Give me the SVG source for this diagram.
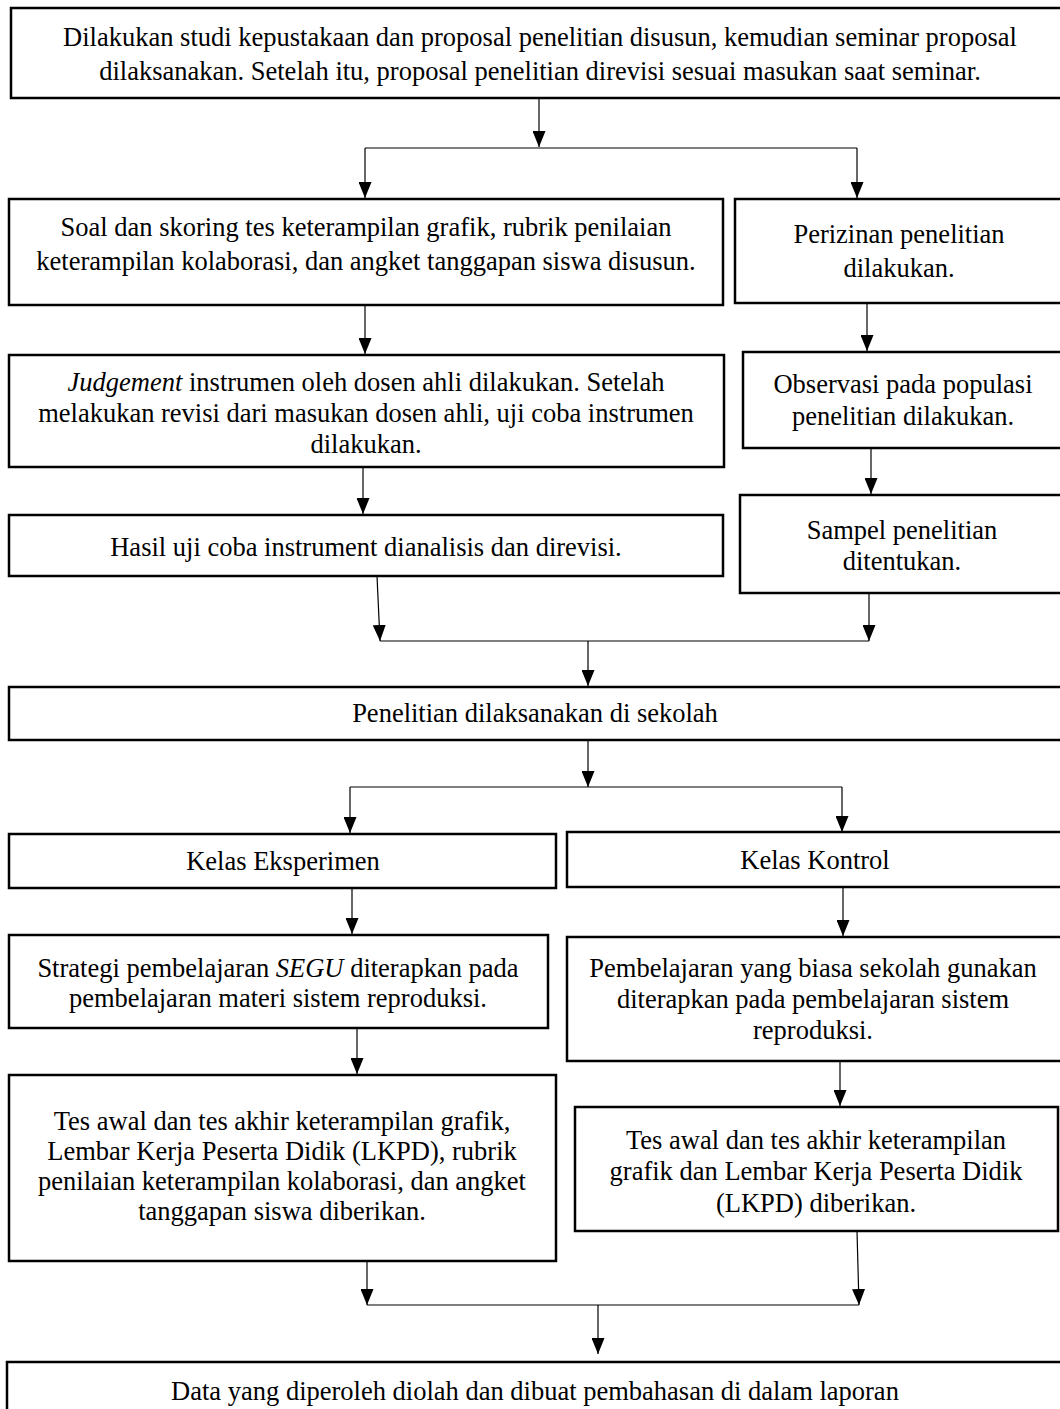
<svg xmlns="http://www.w3.org/2000/svg" width="1060" height="1409" viewBox="0 0 1060 1409">
<style>
.box{fill:#fff;stroke:#000;stroke-width:2.5}
.t{font-family:"Liberation Serif","Times New Roman",serif;font-size:26.5px;fill:#000;text-anchor:middle}
.c{fill:none;stroke:#000;stroke-width:1.2}
</style>
<defs>
<marker id="ah" viewBox="0 0 16 13" refX="16" refY="6.5" markerWidth="16" markerHeight="13" markerUnits="userSpaceOnUse" orient="auto">
<path d="M0,0 L16,6.5 L0,13 Z" fill="#000"/>
</marker>
</defs>
<rect width="1060" height="1409" fill="#fff"/>

<g id="connectors">
<line class="c" x1="539" y1="98" x2="539" y2="147" marker-end="url(#ah)"/>
<line class="c" x1="365" y1="148" x2="857" y2="148"/>
<line class="c" x1="365" y1="148" x2="365" y2="198" marker-end="url(#ah)"/>
<line class="c" x1="857" y1="148" x2="857" y2="198" marker-end="url(#ah)"/>
<line class="c" x1="365" y1="305" x2="365" y2="354" marker-end="url(#ah)"/>
<line class="c" x1="867" y1="303" x2="867" y2="351" marker-end="url(#ah)"/>
<line class="c" x1="363" y1="467" x2="363" y2="514" marker-end="url(#ah)"/>
<line class="c" x1="871" y1="448" x2="871" y2="494" marker-end="url(#ah)"/>
<line class="c" x1="377" y1="576" x2="380" y2="641" marker-end="url(#ah)"/>
<line class="c" x1="869" y1="593" x2="869" y2="641" marker-end="url(#ah)"/>
<line class="c" x1="380" y1="641" x2="869" y2="641"/>
<line class="c" x1="588" y1="641" x2="588" y2="686" marker-end="url(#ah)"/>
<line class="c" x1="588" y1="740" x2="588" y2="787" marker-end="url(#ah)"/>
<line class="c" x1="350" y1="787" x2="842" y2="787"/>
<line class="c" x1="350" y1="787" x2="350" y2="833" marker-end="url(#ah)"/>
<line class="c" x1="842" y1="787" x2="842" y2="832" marker-end="url(#ah)"/>
<line class="c" x1="352" y1="888" x2="352" y2="934" marker-end="url(#ah)"/>
<line class="c" x1="843" y1="887" x2="843" y2="936" marker-end="url(#ah)"/>
<line class="c" x1="357" y1="1028" x2="357" y2="1074" marker-end="url(#ah)"/>
<line class="c" x1="840" y1="1061" x2="840" y2="1106" marker-end="url(#ah)"/>
<line class="c" x1="367" y1="1261" x2="367" y2="1305" marker-end="url(#ah)"/>
<line class="c" x1="857" y1="1231" x2="859" y2="1305" marker-end="url(#ah)"/>
<line class="c" x1="367" y1="1305" x2="859" y2="1305"/>
<line class="c" x1="598" y1="1305" x2="598" y2="1354" marker-end="url(#ah)"/>
</g>

<g id="n1">
<rect class="box" x="11" y="8" width="1060" height="90"/>
<text class="t" x="540" y="46">Dilakukan studi kepustakaan dan proposal penelitian disusun, kemudian seminar proposal</text>
<text class="t" x="540" y="80">dilaksanakan. Setelah itu, proposal penelitian direvisi sesuai masukan saat seminar.</text>
</g>

<g id="n2">
<rect class="box" x="9" y="199" width="714" height="106"/>
<text class="t" x="366" y="236">Soal dan skoring tes keterampilan grafik, rubrik penilaian</text>
<text class="t" x="366" y="270">keterampilan kolaborasi, dan angket tanggapan siswa disusun.</text>
</g>

<g id="n3">
<rect class="box" x="735" y="199" width="330" height="104"/>
<text class="t" x="899" y="243">Perizinan penelitian</text>
<text class="t" x="899" y="277">dilakukan.</text>
</g>

<g id="n4">
<rect class="box" x="9" y="355" width="715" height="112"/>
<text class="t" x="366" y="391"><tspan font-style="italic">Judgement</tspan> instrumen oleh dosen ahli dilakukan. Setelah</text>
<text class="t" x="366" y="422">melakukan revisi dari masukan dosen ahli, uji coba instrumen</text>
<text class="t" x="366" y="453">dilakukan.</text>
</g>

<g id="n5">
<rect class="box" x="743" y="352" width="322" height="96"/>
<text class="t" x="903" y="393">Observasi pada populasi</text>
<text class="t" x="903" y="425">penelitian dilakukan.</text>
</g>

<g id="n6">
<rect class="box" x="9" y="515" width="714" height="61"/>
<text class="t" x="366" y="556">Hasil uji coba instrument dianalisis dan direvisi.</text>
</g>

<g id="n7">
<rect class="box" x="740" y="495" width="325" height="98"/>
<text class="t" x="902" y="539">Sampel penelitian</text>
<text class="t" x="902" y="570">ditentukan.</text>
</g>

<g id="n8">
<rect class="box" x="9" y="687" width="1056" height="53"/>
<text class="t" x="535" y="722">Penelitian dilaksanakan di sekolah</text>
</g>

<g id="n9">
<rect class="box" x="9" y="834" width="547" height="54"/>
<text class="t" x="283" y="870">Kelas Eksperimen</text>
</g>

<g id="n10">
<rect class="box" x="567" y="832" width="498" height="55"/>
<text class="t" x="815" y="869">Kelas Kontrol</text>
</g>

<g id="n11">
<rect class="box" x="9" y="935" width="539" height="93"/>
<text class="t" x="278" y="977">Strategi pembelajaran <tspan font-style="italic">SEGU</tspan> diterapkan pada</text>
<text class="t" x="278" y="1007">pembelajaran materi sistem reproduksi.</text>
</g>

<g id="n12">
<rect class="box" x="567" y="937" width="498" height="124"/>
<text class="t" x="813" y="977">Pembelajaran yang biasa sekolah gunakan</text>
<text class="t" x="813" y="1008">diterapkan pada pembelajaran sistem</text>
<text class="t" x="813" y="1039">reproduksi.</text>
</g>

<g id="n13">
<rect class="box" x="9" y="1075" width="547" height="186"/>
<text class="t" x="282" y="1130">Tes awal dan tes akhir keterampilan grafik,</text>
<text class="t" x="282" y="1160">Lembar Kerja Peserta Didik (LKPD), rubrik</text>
<text class="t" x="282" y="1190">penilaian keterampilan kolaborasi, dan angket</text>
<text class="t" x="282" y="1220">tanggapan siswa diberikan.</text>
</g>

<g id="n14">
<rect class="box" x="575" y="1107" width="483" height="124"/>
<text class="t" x="816" y="1149">Tes awal dan tes akhir keterampilan</text>
<text class="t" x="816" y="1180">grafik dan Lembar Kerja Peserta Didik</text>
<text class="t" x="816" y="1212">(LKPD) diberikan.</text>
</g>

<g id="n15">
<rect class="box" x="7" y="1362" width="1058" height="70"/>
<text class="t" x="535" y="1400">Data yang diperoleh diolah dan dibuat pembahasan di dalam laporan</text>
</g>
</svg>
